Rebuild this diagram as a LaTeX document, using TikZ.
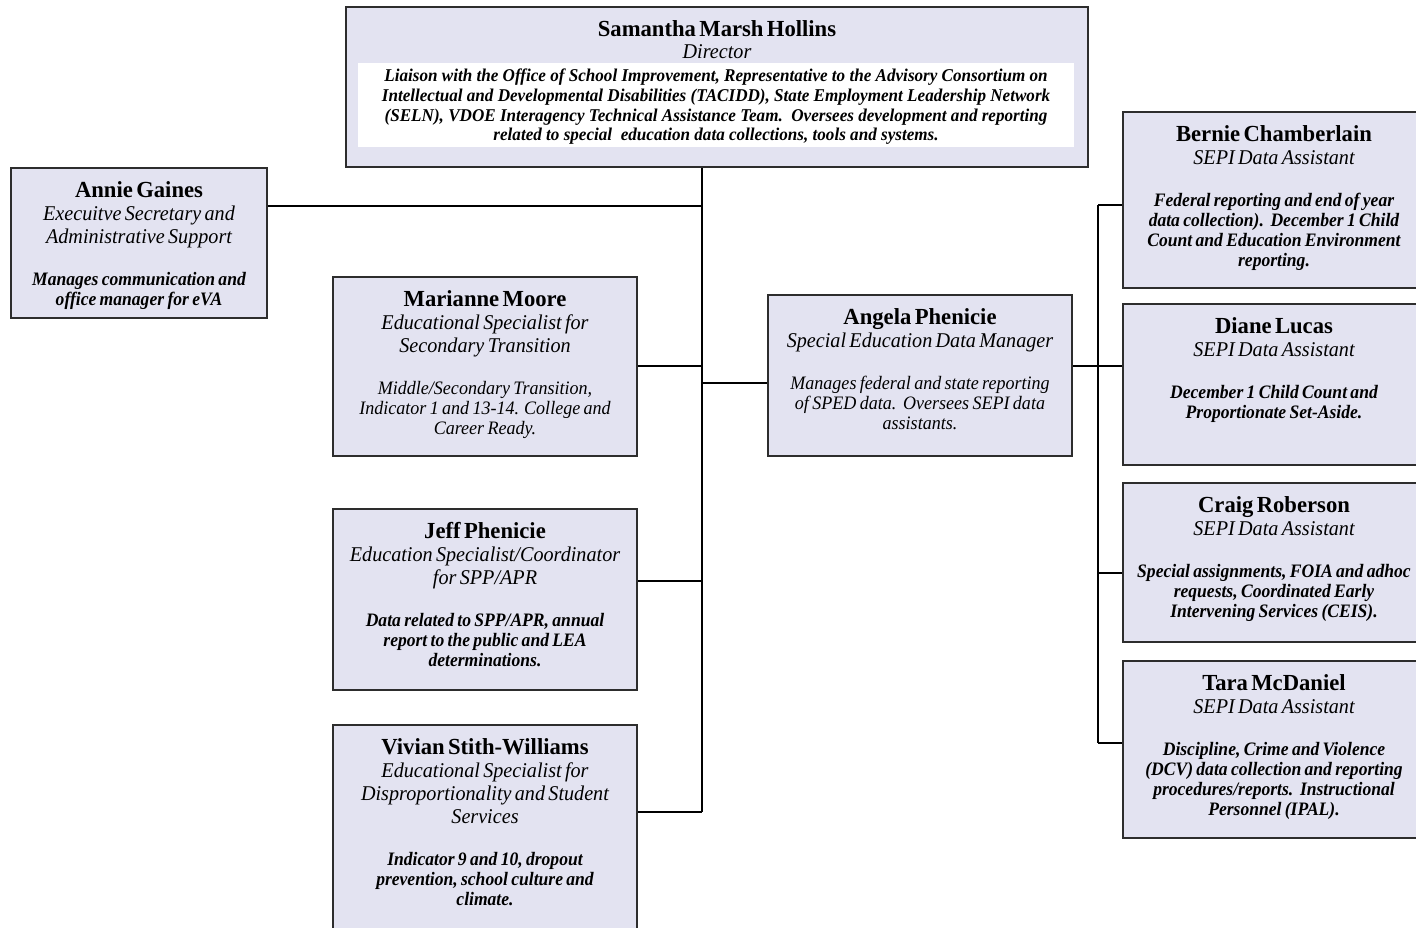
\documentclass[tikz,border=0pt]{standalone}
\usepackage{fontspec}
\setmainfont{Liberation Serif}
\newfontfamily\fN[FakeStretch=0.985]{Liberation Serif}
\newfontfamily\fT[FakeStretch=0.96]{Liberation Serif}
\newfontfamily\fD[FakeStretch=0.925]{Liberation Serif}
\newfontfamily\fDR[FakeStretch=0.95]{Liberation Serif}
\newfontfamily\fDD[FakeStretch=0.95]{Liberation Serif}
\newcommand\pnName{\fN\bfseries\fontsize{23}{23}\selectfont}
\newcommand\pnTitle{\fT\itshape\fontsize{21}{23}\selectfont}
\newcommand\pnDesc{\fD\bfseries\itshape\fontsize{19}{20}\selectfont}
\newcommand\pnDescR{\fDR\itshape\fontsize{19}{20}\selectfont}
\newcommand\pnDir{\fDD\bfseries\itshape\fontsize{18}{19.7}\selectfont}
\newcommand\person[4]{{\pnName #1\par}{\pnTitle #2\par}\vskip 22.5pt{#3#4\par}}
\definecolor{boxfill}{RGB}{227,227,241}
\definecolor{boxline}{RGB}{45,45,45}
\tikzset{
  pbox/.style={draw=boxline, line width=2pt, fill=boxfill, inner sep=0pt},
  ptext/.style={anchor=north, align=center, inner sep=0pt, yshift=-14pt},
  conn/.style={draw=black, line width=1.6pt}
}
\begin{document}
\begin{tikzpicture}[x=1pt,y=-1pt]
\useasboundingbox (0,0) rectangle (1416,927);
\clip (0,0) rectangle (1416,927);
\fill[white] (0,0) rectangle (1416,927);
% boxes
\node[pbox, minimum width=742pt, minimum height=160pt] (dir) at (717,87) {};
\node[fill=white, inner sep=0pt, minimum width=716pt, minimum height=84pt] (dirwhite) at (716,105) {};
\node[inner sep=0pt, align=center, font=\pnDir] (dirdesc) at (716,107)
 {Liaison with the Office of School Improvement, Representative to the Advisory Consortium on\\
  Intellectual and Developmental Disabilities (TACIDD), State Employment Leadership Network\\
  (SELN), VDOE Interagency Technical Assistance Team.\ \ Oversees development and reporting\\
  related to special\ \ education data collections, tools and systems.};
\node[ptext, text width=700pt] (dirt) at (dir.north) {{\pnName Samantha Marsh Hollins\par}{\fT\itshape\fontsize{21}{22}\selectfont Director\par}};

\node[pbox, minimum width=256pt, minimum height=150pt] (ann) at (139,243) {};
\node[ptext, text width=250pt] (annt) at (ann.north) {\person{Annie Gaines}{Execuitve Secretary and\\Administrative Support}{\pnDesc}{Manages communication and\\office manager for eVA}};

\node[pbox, minimum width=304pt, minimum height=179pt] (mar) at (485,366.5) {};
\node[ptext, text width=296pt] (mart) at (mar.north) {\person{Marianne Moore}{Educational Specialist for\\Secondary Transition}{\pnDescR}{Middle/Secondary Transition,\\Indicator 1 and 13-14. College and\\Career Ready.}};

\node[pbox, minimum width=304pt, minimum height=161pt] (ang) at (920,375.5) {};
\node[ptext, text width=296pt] (angt) at (ang.north) {\person{Angela Phenicie}{Special Education Data Manager}{\pnDescR}{Manages federal and state reporting\\of SPED data.\ \ Oversees SEPI data\\assistants.}};

\node[pbox, minimum width=304pt, minimum height=181pt] (jef) at (485,599.5) {};
\node[ptext, text width=296pt] (jeft) at (jef.north) {\person{Jeff Phenicie}{Education Specialist/Coordinator\\for SPP/APR}{\pnDesc}{Data related to SPP/APR, annual\\report to the public and LEA\\determinations.}};

\node[pbox, minimum width=304pt, minimum height=220pt] (viv) at (485,835) {};
\node[ptext, text width=296pt] (vivt) at (viv.north) {\person{Vivian Stith-Williams}{Educational Specialist for\\Disproportionality and Student\\Services}{\pnDesc}{Indicator 9 and 10, dropout\\prevention, school culture and\\climate.}};

\node[pbox, minimum width=302pt, minimum height=176pt] (ber) at (1274,200) {};
\node[ptext, text width=296pt] (bert) at (ber.north) {\person{Bernie Chamberlain}{SEPI Data Assistant}{\pnDesc}{Federal reporting and end of year\\data collection).\ \ December 1 Child\\Count and Education Environment\\reporting.}};

\node[pbox, minimum width=302pt, minimum height=161pt] (dia) at (1274,384.5) {};
\node[ptext, text width=296pt] (diat) at (dia.north) {\person{Diane Lucas}{SEPI Data Assistant}{\pnDesc}{December 1 Child Count and\\Proportionate Set-Aside.}};

\node[pbox, minimum width=302pt, minimum height=159pt] (cra) at (1274,562.5) {};
\node[ptext, text width=296pt] (crat) at (cra.north) {\person{Craig Roberson}{SEPI Data Assistant}{\pnDesc}{Special assignments, FOIA and adhoc\\requests, Coordinated Early\\Intervening Services (CEIS).}};

\node[pbox, minimum width=302pt, minimum height=177pt] (tar) at (1274,749.5) {};
\node[ptext, text width=296pt] (tart) at (tar.north) {\person{Tara McDaniel}{SEPI Data Assistant}{\pnDesc}{Discipline, Crime and Violence\\(DCV) data collection and reporting\\procedures/reports.\ \ Instructional\\Personnel (IPAL).}};

% junctions
\coordinate (tA) at (702,167);
\coordinate (jAn) at (702,206);
\coordinate (jMa) at (702,366);
\coordinate (jAgL) at (702,383);
\coordinate (jJe) at (702,581);
\coordinate (tB) at (702,812);
\coordinate (rT) at (1098,205);
\coordinate (jAgR) at (1098,366);
\coordinate (jCr) at (1098,573);
\coordinate (rB) at (1098,743);

\draw[conn] (dir.south -| tA) -- (tB);
\draw[conn] (jAn -| ann.east) -- (jAn);
\draw[conn] (jMa -| mar.east) -- (jMa);
\draw[conn] (jAgL) -- (jAgL -| ang.west);
\draw[conn] (jJe -| jef.east) -- (jJe);
\draw[conn] (tB -| viv.east) -- (tB);
\draw[conn] (jAgR -| ang.east) -- (jAgR);
\draw[conn] (rT) -- (rB);
\draw[conn] (rT) -- (rT -| ber.west);
\draw[conn] (jAgR) -- (jAgR -| dia.west);
\draw[conn] (jCr) -- (jCr -| cra.west);
\draw[conn] (rB) -- (rB -| tar.west);
\end{tikzpicture}
\end{document}
